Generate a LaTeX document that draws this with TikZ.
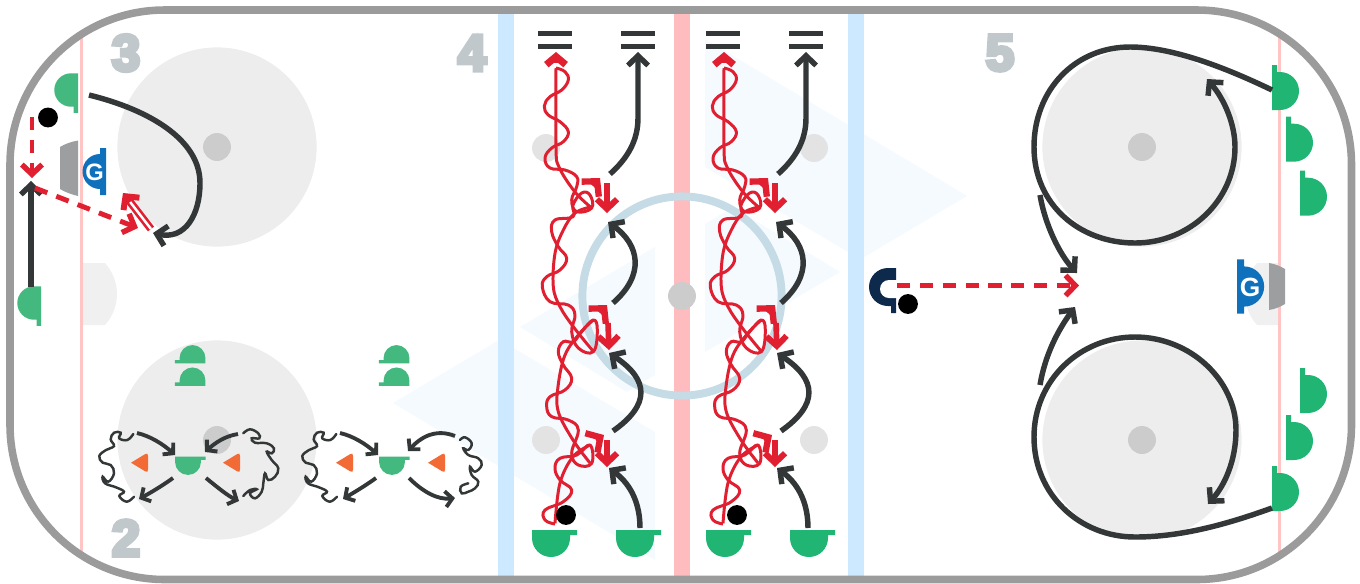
\documentclass[tikz,border=0pt]{standalone}
\usepackage{fontspec}
\usetikzlibrary{arrows.meta}
\font\numfont="Liberation Sans/B:embolden=8" at 29pt
\newfontfamily\goaliefont{Liberation Sans Bold}
\definecolor{ink}{HTML}{333738}
\definecolor{puckred}{HTML}{E01F30}
\definecolor{paleice}{HTML}{F5FAFF}
\definecolor{teamA}{HTML}{43B97F}
\definecolor{teamB}{HTML}{20B573}
\definecolor{coneorange}{HTML}{F26A35}
\definecolor{goalieblue}{HTML}{0F71BB}
\definecolor{coachnavy}{HTML}{0D2A4D}
\definecolor{blueline}{HTML}{CCE9FF}
\definecolor{redline}{HTML}{FFBCBE}
\definecolor{goalline}{HTML}{FFC4C4}
\definecolor{ringblue}{HTML}{C5DBE5}
\definecolor{numgray}{HTML}{C0C8CC}
\definecolor{boardgray}{HTML}{9B9B9B}
\definecolor{netgray}{HTML}{9D9EA0}
\tikzset{
  skate/.style={draw=ink, line width=3.1pt, -{Straight Barb[length=5.5pt,width=11.5pt,line width=3.1pt]}},
  thinskate/.style={draw=ink, line width=2.2pt, -{Straight Barb[length=4pt,width=9pt,line width=2.2pt]}},
  pass/.style={draw=puckred, line width=2.8pt, dash pattern=on 7.5pt off 5.5pt, -{Straight Barb[length=5.5pt,width=11.5pt,line width=3.1pt]}},
  stopmark/.style={draw=puckred, line width=3.2pt, -{Straight Barb[length=5.5pt,width=11.5pt,line width=3.4pt]}},
  hookmark/.style={draw=puckred, line width=3.4pt, -{Straight Barb[length=6pt,width=13pt,line width=3.6pt]}},
  capmark/.style={draw=puckred, line width=4pt, -{Straight Barb[length=4.6pt,width=11pt,line width=4pt]}},
  carry/.style={draw=puckred, line width=1.7pt, line join=round},
  curl/.style={draw=ink, line width=1.4pt, line cap=round},
  faceoff/.style={circle, fill=black!7, inner sep=0pt, minimum size=113.4pt},
  spot/.style={circle, fill=black!20, inner sep=0pt, minimum size=15.9pt},
  bluespot/.style={circle, fill=black!11, inner sep=0pt, minimum size=15.9pt},
  ball/.style={circle, fill=black, inner sep=0pt, minimum size=11.3pt},
  stopbar/.style={rectangle, fill=ink, inner sep=0pt, minimum width=19.8pt, minimum height=3pt},
  drillnum/.style={text=numgray, font=\numfont},
  goalieletter/.style={text=white, font=\goaliefont\fontsize{#1}{#1}\selectfont},
  skater/.pic={
    \path[pic actions] (-19,-8) -- (26,-8) -- (26,-3) -- (19,-3) -- (19,0) arc (0:180:19) -- cycle;
  },
  goalie/.pic={
    \path[pic actions] (-23.5,-6) -- (23.5,-6) -- (23.5,0) -- (17.5,0) arc (0:180:17.5) -- (-23.5,0) -- cycle;
  },
  cone/.pic={
    \path[pic actions, line join=round] (-9,0) -- (5,-8.5) .. controls (7,-10) and (8,-9) .. (8,-7) -- (8,7) .. controls (8,9) and (7,10) .. (5,8.5) -- cycle;
  },
  leftcurl/.pic={
    \draw[curl] plot[smooth, tension=.7] coordinates {(133.3,434) (127.3,440) (119.3,438.3) (120.7,432.7) (114,432.7) (110.7,439.3) (114,446) (106,450) (99.3,456) (102.7,462.7) (110.7,465) (114,473.3) (108.3,481.7) (102.7,476.7) (105,483.3) (116,487.3) (124,491.7) (119.3,496) (126.7,501.7) (134,496.7)};
  },
  lane/.pic={
    \coordinate (-a0) at (556,68);
    \draw[carry] plot[smooth, tension=.6] coordinates {(-a0) (556,147) (559,167) (575,192) (591.7,208)};
    \draw[carry] plot[smooth, tension=.6] coordinates {(591.7,206.7) (575,213) (563.3,230) (555,253.3) (553.3,286.7) (560,306.7) (573.3,326.7) (593,351)};
    \draw[carry] plot[smooth, tension=.6] coordinates {(593.3,320) (580,333) (565,355) (558,386.7) (558.3,411.7) (573,440) (590,463)};
    \draw[carry] plot[smooth, tension=.6] coordinates {(590,445) (573,456.7) (560,483) (555,523.3)};
    \draw[carry] plot[smooth, tension=.7] coordinates {(-a0) (565,71.7) (568.3,80) (561.7,90) (550,96.7) (544.3,106) (548.3,115) (560,121.7) (568.3,131.7) (563.3,141.7) (551.7,148) (545,158) (550,168) (565,170) (576.7,176.7) (576.7,186.7) (571.7,200) (576.7,211.7) (591.7,208) (590,195) (581.7,193) (573,205) (573,216.7) (555,220) (551.7,231.7) (558.3,246.7) (566.7,258.3) (560,270) (546.7,276.7) (542.3,286.7) (550,301.7) (568.3,305) (575,315) (571.7,331.7) (578.3,348) (593.3,351.7) (597.3,330) (593.3,320) (581.7,331.7) (573.3,341.7) (563.3,341.7) (558.3,351.7) (563.3,365) (571.7,378.3) (565,390) (550,396.7) (546.7,406.7) (551.7,416.7) (568.3,420) (578.3,430) (571.7,453) (578.3,465) (591.7,463.3) (590,445) (576.7,455) (560,458.3) (555,468.3) (560,480) (571.7,490) (563.3,501.7) (545,510) (545,520) (555,524)};
    \coordinate (-ha0) at (593,186);
    \coordinate (-ha1) at (600,178);
    \coordinate (-hb0) at (600,313);
    \coordinate (-hb1) at (607,305);
    \coordinate (-hc0) at (596,440);
    \coordinate (-hc1) at (604,435);
    \draw[hookmark] (-ha0) -- (-ha1);
    \draw[hookmark] (-hb0) -- (-hb1);
    \draw[hookmark] (-hc0) -- (-hc1);
    \coordinate (-sa0) at (607,183);
    \coordinate (-sa1) at (607,213);
    \coordinate (-sb0) at (608,323);
    \coordinate (-sb1) at (609,350);
    \coordinate (-sc0) at (607,440);
    \coordinate (-sc1) at (607,467);
    \draw[stopmark] (-sa0) -- (-sa1);
    \draw[stopmark] (-sb0) -- (-sb1);
    \draw[stopmark] (-sc0) -- (-sc1);
    \coordinate (-cap0) at (556,63);
    \coordinate (-tip) at (556,52);
    \draw[capmark] (-cap0) -- (-tip);
    \node[stopbar] (-barA) at (555,33.5){};
    \node[stopbar] (-barB) at (555,46.5){};
    \node[stopbar] (-barC) at (638,33.5){};
    \node[stopbar] (-barD) at (638,46.5){};
    \coordinate (-k0) at (610,174);
    \coordinate (-k1) at (638,52);
    \coordinate (-m0) at (613,303);
    \coordinate (-m1) at (608,222);
    \coordinate (-n0) at (613,431);
    \coordinate (-n1) at (609,353);
    \coordinate (-p0) at (640,528);
    \coordinate (-p1) at (609,468);
    \draw[skate] (-k0) .. controls (628,158) and (638,140) .. (638,118) -- (-k1);
    \draw[skate] (-m0) .. controls (645,275) and (640,245) .. (-m1);
    \draw[skate] (-n0) .. controls (650,405) and (650,380) .. (-n1);
    \draw[skate] (-p0) .. controls (640,505) and (632,485) .. (-p1);
  }
}
\begin{document}
\begin{tikzpicture}[x=0.02cm,y=-0.02cm]
\useasboundingbox (0,0) rectangle (1360,583);
\begin{scope}
\clip[rounded corners=88pt] (10,10) rectangle (1351.5,579.5);
\fill[paleice] (393,403) -- (499.6,339.6) -- (655,432) -- (655,560) -- cycle;
\fill[paleice] (520,327) -- (655,247) -- (655,375) -- (627,392) -- cycle;
\fill[paleice] (967,196) -- (860.4,259.4) -- (705,167) -- (705,39) -- cycle;
\fill[paleice] (840,272) -- (705,352) -- (705,224) -- (733,207) -- cycle;
\fill[black!6] (81,263) -- (105,263) .. controls (113,272) and (117,283) .. (117,294) .. controls (117,305) and (113,316) .. (105,325) -- (81,325) -- cycle;
\fill[black!6] (1279,263) -- (1257,263) .. controls (1249,272) and (1245,283) .. (1245,294) .. controls (1245,305) and (1249,316) .. (1257,325) -- (1279,325) -- cycle;
\fill[goalline] (79.5,0) rectangle (82.5,583);
\fill[goalline] (1277.5,0) rectangle (1280.5,583);
\fill[blueline] (498,0) rectangle (514,583);
\fill[blueline] (848,0) rectangle (864,583);
\fill[redline] (674,0) rectangle (690,583);
\end{scope}
\node[faceoff] (foA) at (217,147){};
\node[faceoff] (foB) at (217,440){};
\node[faceoff] (foC) at (1142,147){};
\node[faceoff] (foD) at (1142,440){};
\node[spot] (spotA) at (217,147){};
\node[spot] (spotB) at (217,440){};
\node[spot] (spotC) at (1142,147){};
\node[spot] (spotD) at (1142,440){};
\node[bluespot] (spotE) at (546,148){};
\node[bluespot] (spotF) at (546,440){};
\node[bluespot] (spotG) at (814,148){};
\node[bluespot] (spotH) at (814,440){};
\node[circle, draw=ringblue, line width=4.5pt, inner sep=0pt, minimum size=113.4pt] (centerring) at (682,296){};
\node[spot] (centerspot) at (682,296){};
\draw[boardgray, line width=4.3pt, rounded corners=88pt] (10,10) rectangle (1351.5,579.5);
\fill[netgray] (78,140.5) .. controls (70,142) and (65,144) .. (60,147) -- (60,189) .. controls (65,192) and (70,194) .. (78,196) -- cycle;
\fill[netgray] (1269,263) .. controls (1275,264) and (1280,266) .. (1285,269) -- (1285,304) .. controls (1280,307) and (1275,309) .. (1269,310) -- cycle;
\pic[rotate=-90, fill=goalieblue] (goalieL) at (100,171.5) {goalie};
\pic[rotate=90, scale=1.15, fill=goalieblue] (goalieR) at (1244,286.5) {goalie};
\node[goalieletter=13.5] (gL) at (94.5,172.5){G};
\node[goalieletter=15] (gR) at (1250,287.5){G};
\node[drillnum] (numThree) at (126,53){3};
\node[drillnum] (numFour) at (472,53){4};
\node[drillnum] (numFive) at (1000,53){5};
\node[drillnum] (numTwo) at (126,538){2};
\pic[rotate=-90, scale=.88, fill=teamA] (plA) at (71,90) {skater};
\pic[rotate=-90, scale=.88, fill=teamA] (plB) at (34,303) {skater};
\node[ball] (ballA) at (48,117.5){};
\coordinate (threeA0) at (89,95);
\coordinate (threeA1) at (153,233);
\coordinate (threeB0) at (31,287);
\coordinate (threeB1) at (31,181);
\coordinate (threeC0) at (32,117);
\coordinate (threeC1) at (32,178);
\coordinate (threeD0) at (35,188);
\coordinate (threeD1) at (138,228);
\coordinate (threeE0) at (151,229);
\coordinate (threeE1) at (123,193);
\draw[skate] (threeA0) .. controls (150,110) and (200,140) .. (200,183) .. controls (200,215) and (185,240) .. (threeA1);
\draw[skate] (threeB0) -- (threeB1);
\draw[pass] (threeC0) -- (threeC1);
\draw[pass] (threeD0) -- (threeD1);
\draw[draw=puckred, line width=4.4pt] (threeE0) -- (129,200.5);
\draw[draw=white, line width=1.4pt] (threeE0) -- (129,200.5);
\draw[stopmark] (130,202) -- (threeE1);
\pic[rotate=180, scale=.68, fill=teamA] (plC) at (192.5,358) {skater};
\pic[rotate=180, scale=.68, fill=teamA] (plD) at (192.5,380.4) {skater};
\pic[rotate=180, scale=.68, fill=teamA] (plE) at (396.5,358) {skater};
\pic[rotate=180, scale=.68, fill=teamA] (plF) at (396.5,380.4) {skater};
\pic[scale=.68, fill=teamA] (plG) at (188,462) {skater};
\pic[scale=.68, fill=teamA] (plH) at (392,462) {skater};
\pic[fill=coneorange] (coneA) at (140,462.7) {cone};
\pic[fill=coneorange] (coneB) at (232,462.7) {cone};
\pic[fill=coneorange] (coneC) at (345,462.7) {cone};
\pic[fill=coneorange] (coneD) at (437,462.7) {cone};
\coordinate (twoA0) at (137,433);
\coordinate (twoA1) at (175,455);
\coordinate (twoB0) at (238,434);
\coordinate (twoB1) at (205,452);
\coordinate (twoC0) at (173,478);
\coordinate (twoC1) at (139,499);
\coordinate (twoD0) at (206,478);
\coordinate (twoD1) at (239,501);
\coordinate (twoE0) at (340,433);
\coordinate (twoE1) at (378,455);
\coordinate (twoF0) at (455,436);
\coordinate (twoF1) at (408,451);
\coordinate (twoG0) at (376,478);
\coordinate (twoG1) at (343,499);
\coordinate (twoH0) at (409,478);
\coordinate (twoH1) at (455,498);
\draw[thinskate] (twoA0) .. controls (150,436) and (163,444) .. (twoA1);
\draw[thinskate] (twoB0) .. controls (225,436) and (215,443) .. (twoB1);
\draw[thinskate] (twoC0) .. controls (162,486) and (150,493) .. (twoC1);
\draw[thinskate] (twoD0) .. controls (217,487) and (228,496) .. (twoD1);
\draw[thinskate] (twoE0) .. controls (353,436) and (366,444) .. (twoE1);
\draw[thinskate] (twoF0) .. controls (435,428) and (420,438) .. (twoF1);
\draw[thinskate] (twoG0) .. controls (365,486) and (353,493) .. (twoG1);
\draw[thinskate] (twoH0) .. controls (423,492) and (438,500) .. (twoH1);
\pic (curlA) at (0,0) {leftcurl};
\begin{scope}[shift={(203,0)}]
\pic (curlB) at (0,0) {leftcurl};
\end{scope}
\draw[curl] plot[smooth, tension=.7] coordinates {(243.3,433.3) (250,429.3) (258.3,433.3) (259.3,438.3) (251.7,438.3) (255,442.7) (266.7,443.3) (274,448.3) (271.7,453.3) (266.7,451.7) (271.7,460) (278.3,468.3) (275,476.7) (268.3,480) (265,473.3) (263.3,483.3) (261.7,491.7) (255,498.3) (250,493.3) (256.7,489.3) (250,490) (243.3,496)};
\draw[curl] plot[smooth, tension=.7] coordinates {(460,440) (465,437.3) (471.7,443.3) (468.3,450) (463.3,448.3) (468.3,455) (478.3,458.3) (481.7,465) (475,471.7) (470,466.7) (471.7,475) (478.3,481.7) (475,488.3) (468.3,491.7) (461.7,493.3) (460.7,486.7) (468.3,483.3)};
\pic (laneA) at (0,0) {lane};
\begin{scope}[shift={(168,0)}]
\pic (laneB) at (0,0) {lane};
\end{scope}
\pic[fill=teamB] (plI) at (551,538) {skater};
\pic[fill=teamB] (plJ) at (635,538) {skater};
\pic[fill=teamB] (plK) at (725,538) {skater};
\pic[fill=teamB] (plL) at (809,538) {skater};
\node[ball] (ballB) at (566,515){};
\node[ball] (ballC) at (737,515){};
\pic[rotate=-90, fill=coachnavy] (coach) at (888,287) {skater};
\fill[white] (897,280) -- (889,280) arc (270:90:9) -- (897,298) -- cycle;
\node[ball] (ballD) at (908,304){};
\coordinate (fiveA0) at (897,285.5);
\coordinate (fiveA1) at (1079,285.5);
\draw[pass] (fiveA0) -- (fiveA1);
\pic[rotate=90, fill=teamB] (plM) at (1280,91) {skater};
\pic[rotate=90, fill=teamB] (plN) at (1294,142.7) {skater};
\pic[rotate=90, fill=teamB] (plO) at (1308,196.7) {skater};
\pic[rotate=90, fill=teamB] (plP) at (1308,394) {skater};
\pic[rotate=90, fill=teamB] (plQ) at (1294,441) {skater};
\pic[rotate=90, fill=teamB] (plR) at (1280,492) {skater};
\coordinate (fiveB0) at (1272,90);
\coordinate (fiveB1) at (1207,79);
\coordinate (fiveC0) at (1272,508);
\coordinate (fiveC1) at (1208,504);
\coordinate (fiveD0) at (1040,195);
\coordinate (fiveD1) at (1077,273);
\coordinate (fiveE0) at (1040,385);
\coordinate (fiveE1) at (1075,307);
\draw[skate] (fiveB0) .. controls (1220,65) and (1170,47) .. (1130,47) .. controls (1075,47) and (1034,90) .. (1034,147) .. controls (1034,205) and (1080,243) .. (1135,243) .. controls (1190,243) and (1235,200) .. (1235,147) .. controls (1235,125) and (1225,100) .. (fiveB1);
\draw[skate] (fiveC0) .. controls (1225,525) and (1180,537) .. (1135,537) .. controls (1080,537) and (1034,495) .. (1034,437) .. controls (1034,380) and (1080,337) .. (1135,337) .. controls (1190,337) and (1236,380) .. (1236,430) .. controls (1236,460) and (1225,485) .. (fiveC1);
\draw[skate] (fiveD0) .. controls (1045,225) and (1060,255) .. (fiveD1);
\draw[skate] (fiveE0) .. controls (1045,355) and (1058,330) .. (fiveE1);
\end{tikzpicture}
\end{document}
